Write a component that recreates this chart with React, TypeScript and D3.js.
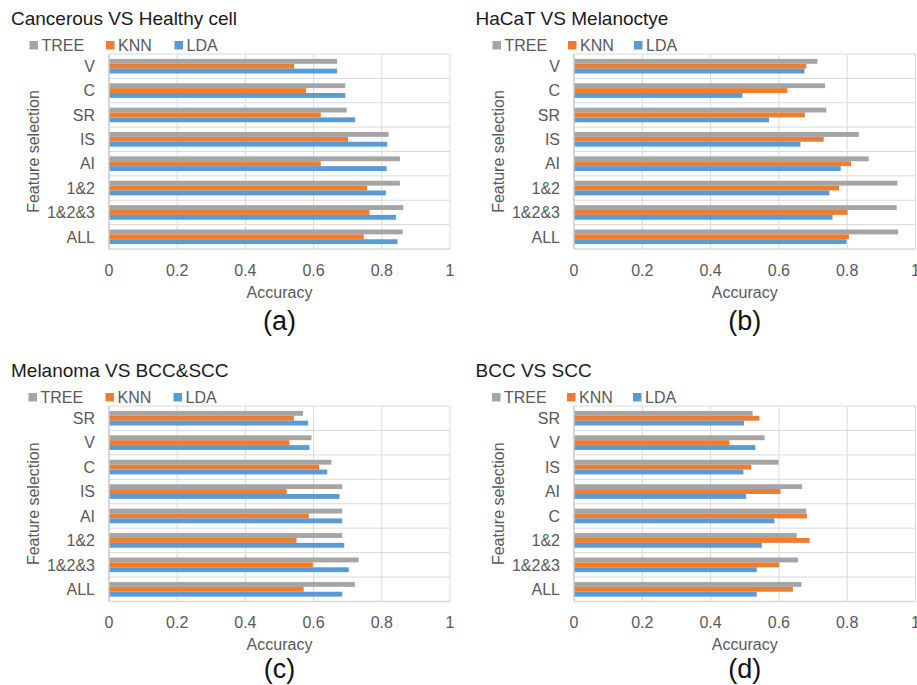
import React from "react";
import * as d3 from "d3";

const seriesNames = ["TREE", "KNN", "LDA"];
const seriesColors = ["#a5a5a5", "#ed7d31", "#5b9bd5"];
const xTicks = [0, 0.2, 0.4, 0.6, 0.8, 1];

const catsA = ["V", "C", "SR", "IS", "AI", "1&2", "1&2&3", "ALL"];
const treeA = [0.669, 0.693, 0.697, 0.82, 0.853, 0.853, 0.863, 0.861];
const knnA = [0.543, 0.578, 0.621, 0.701, 0.621, 0.757, 0.764, 0.747];
const ldaA = [0.669, 0.693, 0.722, 0.816, 0.814, 0.812, 0.842, 0.846];

const catsB = ["V", "C", "SR", "IS", "AI", "1&2", "1&2&3", "ALL"];
const treeB = [0.713, 0.735, 0.739, 0.834, 0.863, 0.947, 0.945, 0.949];
const knnB = [0.68, 0.625, 0.676, 0.731, 0.811, 0.776, 0.801, 0.805];
const ldaB = [0.675, 0.493, 0.571, 0.663, 0.781, 0.748, 0.757, 0.798];

const catsC = ["SR", "V", "C", "IS", "AI", "1&2", "1&2&3", "ALL"];
const treeC = [0.569, 0.594, 0.652, 0.684, 0.684, 0.684, 0.732, 0.721];
const knnC = [0.542, 0.529, 0.616, 0.521, 0.586, 0.55, 0.598, 0.571];
const ldaC = [0.584, 0.588, 0.64, 0.676, 0.684, 0.69, 0.703, 0.684];

const catsD = ["SR", "V", "IS", "AI", "C", "1&2", "1&2&3", "ALL"];
const treeD = [0.523, 0.558, 0.599, 0.668, 0.68, 0.652, 0.656, 0.666];
const knnD = [0.543, 0.455, 0.519, 0.605, 0.682, 0.69, 0.601, 0.641];
const ldaD = [0.498, 0.531, 0.496, 0.504, 0.587, 0.55, 0.535, 0.535];

const FONT = "'Liberation Sans', Arial, Helvetica, sans-serif";

type PanelCfg = {
  title: string;
  label: string;
  cats: string[];
  series: number[][];
  left: number;
  right: number;
  top: number;
  bottom: number;
  titleX: number;
  legendX: number;
  legendOffsets: number[];
  labelY: number;
};

const panels: PanelCfg[] = [
  {
    title: "Cancerous VS Healthy cell",
    label: "(a)",
    cats: catsA,
    series: [treeA, knnA, ldaA],
    left: 109,
    right: 450,
    top: 54,
    bottom: 249,
    titleX: 11,
    legendX: 29.5,
    legendOffsets: [0, 76.5, 145],
    labelY: 330,
  },
  {
    title: "HaCaT VS Melanoctye",
    label: "(b)",
    cats: catsB,
    series: [treeB, knnB, ldaB],
    left: 574,
    right: 915.5,
    top: 54,
    bottom: 249,
    titleX: 475.5,
    legendX: 492.5,
    legendOffsets: [0, 75.5, 141.5],
    labelY: 330,
  },
  {
    title: "Melanoma VS BCC&SCC",
    label: "(c)",
    cats: catsC,
    series: [treeC, knnC, ldaC],
    left: 109,
    right: 450,
    top: 406,
    bottom: 601.5,
    titleX: 11,
    legendX: 28.5,
    legendOffsets: [0, 77, 145],
    labelY: 678,
  },
  {
    title: "BCC VS SCC",
    label: "(d)",
    cats: catsD,
    series: [treeD, knnD, ldaD],
    left: 574,
    right: 915.5,
    top: 406,
    bottom: 601.5,
    titleX: 475.5,
    legendX: 492,
    legendOffsets: [0, 75, 141],
    labelY: 678,
  },
];

function Panel({ p }: { p: PanelCfg }) {
  const x = d3.scaleLinear().domain([0, 1]).range([p.left, p.right]);
  const y = d3
    .scaleBand<string>()
    .domain(p.cats)
    .range([p.top, p.bottom])
    .paddingInner(0.4)
    .paddingOuter(0.2);
  const inner = d3
    .scaleBand<string>()
    .domain(seriesNames)
    .range([0, y.bandwidth()])
    .padding(0);
  const step = (p.bottom - p.top) / p.cats.length;
  const boundaries = d3.range(p.cats.length + 1).map((i) => p.top + i * step);
  const cx = (p.left + p.right) / 2;
  const dy = p.top - 54;
  const grid = "#d9d9d9";
  const textCol = "#595959";
  return (
    <g fontFamily={FONT}>
      <text x={p.titleX} y={25 + dy} fontSize={19} fill="#1a1a1a">
        {p.title}
      </text>
      {seriesNames.map((s, i) => (
        <g key={s}>
          <rect
            x={p.legendX + p.legendOffsets[i]}
            y={41 + dy}
            width={8.5}
            height={8.5}
            fill={seriesColors[i]}
          />
          <text
            x={p.legendX + p.legendOffsets[i] + 12}
            y={50.5 + dy}
            fontSize={16}
            fill={textCol}
          >
            {s}
          </text>
        </g>
      ))}
      {/* gridlines */}
      {xTicks.slice(1).map((t) => (
        <line
          key={"v" + t}
          x1={x(t)}
          x2={x(t)}
          y1={p.top}
          y2={p.bottom}
          stroke={grid}
          strokeWidth={1}
        />
      ))}
      {boundaries.map((b, i) => (
        <line
          key={"h" + i}
          x1={p.left}
          x2={p.right}
          y1={b}
          y2={b}
          stroke={grid}
          strokeWidth={i === p.cats.length ? 1.5 : 1}
        />
      ))}
      {/* bars */}
      {p.cats.map((c, ci) => (
        <g key={c}>
          {seriesNames.map((s, si) => (
            <rect
              key={s}
              x={x(0)}
              y={(y(c) as number) + (inner(s) as number)}
              width={x(p.series[si][ci]) - x(0)}
              height={inner.bandwidth()}
              fill={seriesColors[si]}
            />
          ))}
        </g>
      ))}
      {/* axis line */}
      <line
        x1={p.left}
        x2={p.left}
        y1={p.top}
        y2={p.bottom}
        stroke="#c8c8c8"
        strokeWidth={1.5}
      />
      {/* category labels */}
      {p.cats.map((c) => (
        <text
          key={"l" + c}
          x={p.left - 14}
          y={(y(c) as number) + y.bandwidth() / 2 + 5.8}
          fontSize={16}
          fill={textCol}
          textAnchor="end"
        >
          {c}
        </text>
      ))}
      {/* x tick labels */}
      {xTicks.map((t) => (
        <text
          key={"t" + t}
          x={x(t)}
          y={276 + dy}
          fontSize={16}
          fill={textCol}
          textAnchor="middle"
        >
          {d3.format("~g")(t)}
        </text>
      ))}
      <text
        x={cx}
        y={298 + dy}
        fontSize={16}
        fill={textCol}
        textAnchor="middle"
      >
        Accuracy
      </text>
      <text
        transform={`translate(${p.left - 70},${(p.top + p.bottom) / 2}) rotate(-90)`}
        fontSize={16}
        fill={textCol}
        textAnchor="middle"
      >
        Feature selection
      </text>
      <text
        x={cx}
        y={p.labelY}
        fontSize={27}
        fill="#111"
        textAnchor="middle"
      >
        {p.label}
      </text>
    </g>
  );
}

export default function App() {
  return (
    <div style={{ position: "absolute", left: 0, top: 0 }}>
      <svg width={917} height={685} style={{ display: "block", background: "#fff" }}>
        <rect width={917} height={685} fill="#fff" />
        {panels.map((p) => (
          <Panel key={p.label} p={p} />
        ))}
      </svg>
    </div>
  );
}
